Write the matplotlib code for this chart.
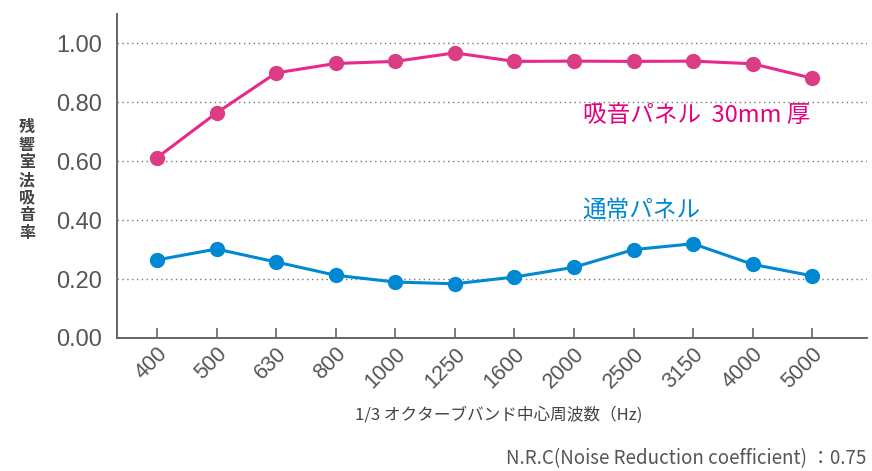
import matplotlib
matplotlib.use("Agg")
import matplotlib.pyplot as plt
import numpy as np

plt.rcParams['font.family'] = ['Noto Sans CJK JP', 'DejaVu Sans']

# 1/3 octave band centre frequencies
freqs = ['400', '500', '630', '800', '1000', '1250', '1600', '2000',
         '2500', '3150', '4000', '5000']
# absorption coefficients
panel_30mm = [0.612, 0.764, 0.900, 0.932, 0.939, 0.968, 0.939, 0.940,
              0.939, 0.940, 0.931, 0.882]
panel_normal = [0.265, 0.302, 0.258, 0.213, 0.190, 0.184, 0.207, 0.240,
                0.300, 0.320, 0.250, 0.211]
yticks = [0.0, 0.2, 0.4, 0.6, 0.8, 1.0]

PINK_LINE = '#e8288a'
PINK_MARK = '#db3d84'
PINK_TEXT = '#e5007f'
BLUE = '#0088d2'
GREY = '#555555'

fig = plt.figure(figsize=(8.72, 4.71), dpi=100)
ax = fig.add_axes([0.1342, 0.2824, 0.8601, 0.6879])

x = np.arange(len(freqs))
ax.plot(x, panel_30mm, '-', color=PINK_LINE, linewidth=2.2, zorder=3)
ax.plot(x, panel_30mm, 'o', color=PINK_MARK, markersize=10, zorder=4)
ax.plot(x, panel_normal, '-', color=BLUE, linewidth=2.2, zorder=3)
ax.plot(x, panel_normal, 'o', color=BLUE, markersize=10, zorder=4)

# dotted gridlines (not at zero)
for v in yticks[1:]:
    ax.axhline(v, color='#777777', linestyle=(0, (1, 2.5)), linewidth=1.0, zorder=1)

ax.set_xlim(-0.67, 11.92)
ax.set_ylim(0, 1.10)

ax.set_xticks(x)
ax.set_xticklabels(freqs, rotation=45, ha='right', va='top',
                   rotation_mode='anchor', fontsize=15.5, color=GREY,
                   family=['Liberation Sans', 'DejaVu Sans'])
ax.set_yticks(yticks)
ax.set_yticklabels([f'{v:.2f}' for v in yticks], fontsize=17, color=GREY,
                   family=['Liberation Sans', 'DejaVu Sans'])
ax.tick_params(axis='x', direction='in', length=7, width=1.2, color='#666666', pad=4)
ax.tick_params(axis='y', length=0, pad=11)

for side in ['top', 'right']:
    ax.spines[side].set_visible(False)
ax.spines['left'].set_color('#666666')
ax.spines['bottom'].set_color('#666666')
ax.spines['left'].set_linewidth(1.4)
ax.spines['bottom'].set_linewidth(1.4)

# series labels
ax.text(0.621, 0.688, '吸音パネル  30mm 厚', transform=ax.transAxes,
        fontsize=17, color=PINK_TEXT, ha='left', va='center')
ax.text(0.621, 0.393, '通常パネル', transform=ax.transAxes,
        fontsize=17, color=BLUE, ha='left', va='center')

# vertical stacked y label
fig.text(27 / 872, 1 - 180 / 471, '\n'.join('残響室法吸音率'), fontsize=11.5,
         color='#444444', ha='center', va='center', linespacing=1.12,
         fontweight='bold')

fig.text(499 / 872, 1 - 415 / 471, '1/3 オクターブバンド中心周波数（Hz)',
         fontsize=12, color='#444444', ha='center', va='center')
fig.text(866 / 872, 1 - 459 / 471, 'N.R.C(Noise Reduction coefficient) ：0.75',
         fontsize=13.5, color=GREY, ha='right', va='center')

fig.savefig('out.png', dpi=100)
